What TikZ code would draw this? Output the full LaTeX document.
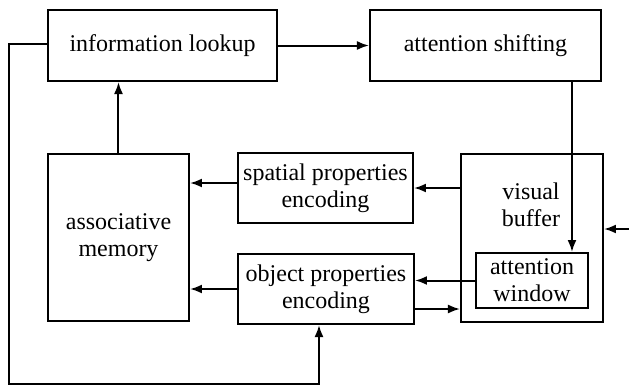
\documentclass[tikz,border=0pt]{standalone}
\usepackage{fontspec}
\setmainfont{Liberation Serif}
\usetikzlibrary{arrows.meta}

\begin{document}
\begin{tikzpicture}
[every node/.style={inner sep=0pt, align=center, font=\fontsize{12}{13.5}\selectfont},
 box/.style={rectangle, draw=black, line width=1pt},
 link/.style={line width=1pt, -{Latex[length=6pt, width=4.5pt]}, color=black}]
\useasboundingbox (0pt, 0pt) rectangle (314.5pt, -193.5pt);
\node (lookup) [box, minimum width=114.5pt, minimum height=35.5pt] at (81.25pt, -22.75pt) {information lookup};
\node (shifting) [box, minimum width=115.5pt, minimum height=35.5pt] at (242.75pt, -22.75pt) {attention shifting};
\node (memory) [box, minimum width=70.5pt, minimum height=83.5pt] at (59.25pt, -118.75pt) {associative\\memory};
\node (spatial) [box, minimum width=87.5pt, minimum height=35pt] at (162.75pt, -94pt) {spatial properties\\encoding};
\node (object) [box, minimum width=88pt, minimum height=35pt] at (163pt, -144.5pt) {object properties\\encoding};
\node (buffer) [box, minimum width=71pt, minimum height=84pt] at (266pt, -119pt) {};
\node (buffertext) at (265.5pt, -102.5pt) {visual\\buffer};
\node (window) [box, minimum width=56pt, minimum height=27.5pt] at (266pt, -140.25pt) {attention\\window};
\coordinate (input) at (314.5pt, -114.5pt);
\coordinate (loopa) at (4.5pt, -22pt);
\coordinate (loopb) at (4.5pt, -192pt);
\coordinate (loopc) at (159.5pt, -192pt);
% top row
\draw [link] (lookup) to (shifting);
\draw [link] (memory.north) to (memory.north |- lookup.south);
\draw [link] ([xshift=43.25pt]shifting.south) to ([xshift=43.25pt]shifting.south |- window.north);
% encodings
\draw [link] (buffer.west |- spatial.east) to (spatial.east);
\draw [link] ([yshift=2.5pt]spatial.west) to ([yshift=2.5pt]spatial.west -| memory.east);
\draw [link] (window.west) to (window.west -| object.east);
\draw [link] ([yshift=-10pt]object.east) to ([yshift=-10pt]object.east -| buffer.west);
\draw [link] (object.west) to (object.west -| memory.east);
\draw [link] (input) to (input -| buffer.east);
% feedback loop
\draw [link] (lookup.west |- loopa) -- (loopa) -- (loopb) -- (loopc) -- (loopc |- object.south);
\end{tikzpicture}
\end{document}
